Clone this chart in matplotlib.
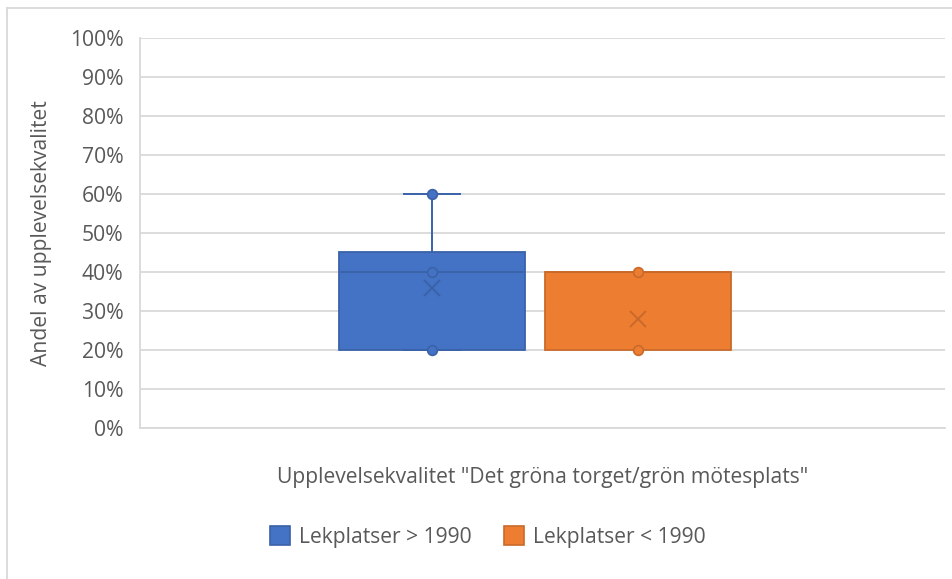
import matplotlib.pyplot as plt
from matplotlib.patches import Patch
from matplotlib.lines import Line2D

# data (percent)
series = ['Lekplatser > 1990', 'Lekplatser < 1990']
q1 = [20, 20]
median = [40, 40]
q3 = [45, 40]
whisker_low = [20, 20]
whisker_high = [60, 40]
means = [36, 28]
points = [[20, 40, 60], [20, 40]]

fills = ['#4472C4', '#ED7D31']
edges = ['#3A62A8', '#C96A2A']

plt.rcParams['font.family'] = ['Open Sans', 'DejaVu Sans']
fs = 15.2

fig = plt.figure(figsize=(9.52, 5.79), dpi=100)
ax = fig.add_axes([0.1471, 0.2608, 0.8455, 0.6736])

positions = [1, 2]
stats = []
for i in range(len(series)):
    stats.append({'med': median[i], 'q1': q1[i], 'q3': q3[i],
                  'whislo': whisker_low[i], 'whishi': whisker_high[i],
                  'mean': means[i], 'fliers': [], 'label': series[i]})

for i in range(len(series)):
    c = fills[i]
    e = edges[i]
    ax.bxp([stats[i]], positions=[positions[i]], widths=0.905, patch_artist=True,
           showmeans=True, showcaps=True, showfliers=False,
           boxprops=dict(facecolor=c, edgecolor=e, linewidth=1.3),
           medianprops=dict(color=e, linewidth=1.3),
           whiskerprops=dict(color=e, linewidth=1.4),
           capprops=dict(color=e, linewidth=1.4),
           capwidths=0.27 if whisker_high[i] > q3[i] else 0.0,
           meanprops=dict(marker='x', markeredgecolor=e, markersize=12, markeredgewidth=1.4),
           zorder=3)
    ax.plot([positions[i]] * len(points[i]), points[i], 'o', color=c,
            markeredgecolor=e, markersize=7, markeredgewidth=1.2, zorder=4)

ax.set_xlim(-0.4175, 3.49)
ax.set_ylim(0, 100)
ax.set_yticks(range(0, 101, 10))
ax.set_yticklabels([f'{v}%' for v in range(0, 101, 10)])
ax.set_xticks([])
ax.grid(axis='y', color='#D9D9D9', linewidth=1.3, zorder=0)
ax.set_axisbelow(True)
for s in ['top', 'right']:
    ax.spines[s].set_visible(False)
for s in ['left', 'bottom']:
    ax.spines[s].set_color('#D9D9D9')
    ax.spines[s].set_linewidth(1.3)
ax.tick_params(axis='y', length=0, pad=12, labelsize=fs, labelcolor='#595959')

ax.set_ylabel('Andel av upplevelsekvalitet', fontsize=fs, color='#595959', labelpad=13)
ax.set_xlabel('Upplevelsekvalitet "Det gröna torget/grön mötesplats"', fontsize=fs,
              color='#595959', labelpad=28)

handles = [Patch(facecolor=fills[i], edgecolor=edges[i], linewidth=1.2) for i in range(len(series))]
fig.legend(handles, series, loc='center', bbox_to_anchor=(0.5126, 0.0725), ncol=2,
           frameon=False, fontsize=fs, labelcolor='#595959', handlelength=0.95,
           handleheight=0.95, handletextpad=0.45, columnspacing=1.5)

# light frame around the chart (top and left only visible)
fig.add_artist(Line2D([0.0075, 0.999], [0.986, 0.986], color='#D9D9D9', linewidth=1.3))
fig.add_artist(Line2D([0.0075, 0.0075], [0.0, 0.986], color='#D9D9D9', linewidth=1.3))

fig.savefig('out.png', dpi=100)
